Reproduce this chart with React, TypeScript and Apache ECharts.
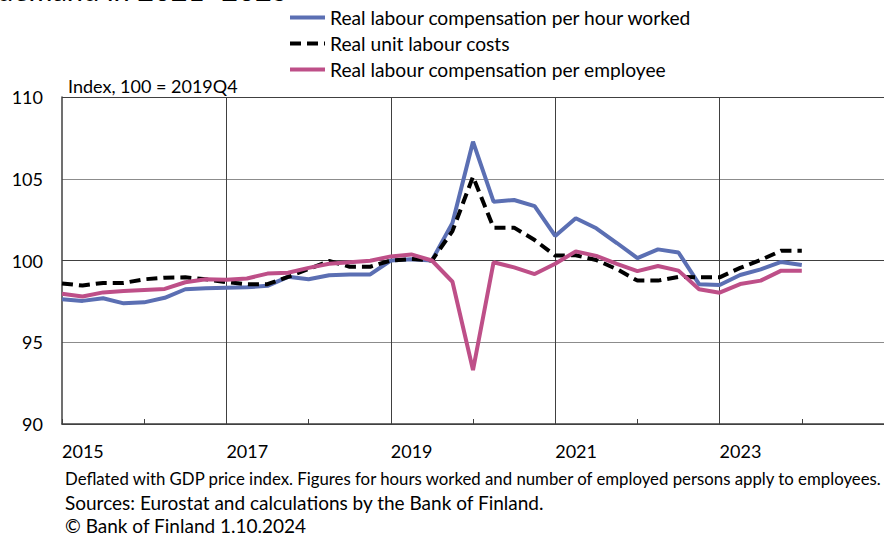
import React, { useEffect, useRef } from "react";
import * as echarts from "echarts";

// Quarters 2015Q2 .. 2025Q2 (axis extends past the last observation)
const quarters: string[] = [];
for (let y = 2015; y <= 2025; y++) {
  for (let q = 1; q <= 4; q++) {
    if (y === 2015 && q === 1) continue;
    if (y === 2025 && q > 2) continue;
    quarters.push(`${y}Q${q}`);
  }
}

const perHourWorked = [
  97.63, 97.53, 97.69, 97.38, 97.44, 97.72, 98.24, 98.3, 98.34, 98.36, 98.45,
  99.0, 98.85, 99.1, 99.15, 99.15, 100.0, 100.08, 100.0, 102.3, 107.27, 103.6,
  103.7, 103.33, 101.5, 102.58, 101.97, 101.07, 100.15, 100.68, 100.49, 98.55,
  98.5, 99.11, 99.46, 99.91, 99.72,
];

const unitLabourCosts = [
  98.6, 98.47, 98.63, 98.63, 98.85, 98.95, 98.97, 98.85, 98.68, 98.55, 98.55,
  99.0, 99.48, 99.97, 99.62, 99.62, 100.0, 100.09, 100.0, 101.8, 105.13, 102.01,
  102.01, 101.25, 100.3, 100.32, 100.03, 99.47, 98.77, 98.77, 99.0, 98.97,
  98.97, 99.55, 100.03, 100.6, 100.6,
];

const perEmployee = [
  97.96, 97.8, 98.05, 98.13, 98.2, 98.26, 98.67, 98.85, 98.82, 98.9, 99.2,
  99.25, 99.55, 99.8, 99.9, 99.98, 100.25, 100.37, 100.0, 98.7, 93.3, 99.89,
  99.58, 99.17, 99.8, 100.56, 100.28, 99.79, 99.35, 99.66, 99.38, 98.24, 98.03,
  98.56, 98.77, 99.38, 99.38,
];

const seriesNames = [
  "Real labour compensation per hour worked",
  "Real unit labour costs",
  "Real labour compensation per employee",
];

const titleText = "demand in 2021–2025";
const unitText = "Index, 100 = 2019Q4";
const footnotes = [
  "Deflated with GDP price index. Figures for hours worked and number of employed persons apply to employees.",
  "Sources: Eurostat and calculations by the Bank of Finland.",
  "© Bank of Finland 1.10.2024",
];

const FONT = "Lato, 'Noto Sans', sans-serif";
const BLUE = "#5b6fb3";
const PINK = "#be4f88";

export default function App() {
  const ref = useRef<HTMLDivElement>(null);

  useEffect(() => {
    if (!ref.current) return;
    const chart = echarts.init(ref.current, undefined, { renderer: "svg" });
    const catCount = quarters.length; // 41
    const step = 20.97;

    chart.setOption({
      animation: false,
      backgroundColor: "#ffffff",
      textStyle: { fontFamily: FONT },
      grid: {
        left: 62,
        top: 97,
        height: 327,
        width: step * (catCount - 1),
        containLabel: false,
      },
      legend: {
        orient: "vertical",
        left: 288,
        top: 8,
        padding: 0,
        itemWidth: 35,
        itemHeight: 8,
        itemGap: 7,
        selectedMode: false,
        itemStyle: { opacity: 0 },
        lineStyle: { width: 4 },
        textStyle: { fontSize: 19.2, color: "#000", fontFamily: FONT },
        data: seriesNames,
      },
      xAxis: {
        type: "category",
        data: quarters,
        boundaryGap: false,
        axisLine: { show: true, lineStyle: { color: "#404040", width: 1.5 } },
        axisTick: {
          show: true,
          inside: true,
          length: 5,
          interval: (i: number) => i % 4 === 0,
          lineStyle: { color: "#404040", width: 1 },
        },
        axisLabel: {
          interval: (i: number) => i % 8 === 0 && i < 40,
          formatter: (v: string) => v.slice(0, 4),
          align: "left",
          fontSize: 18,
          color: "#000",
          margin: 18,
          fontFamily: FONT,
        },
        splitLine: {
          show: true,
          interval: (i: number) => i % 8 === 0 && i > 0,
          lineStyle: { color: "#404040", width: 1 },
        },
      },
      yAxis: {
        type: "value",
        min: 90,
        max: 110,
        interval: 5,
        axisLine: { show: true, lineStyle: { color: "#404040", width: 1.5 } },
        axisTick: { show: false },
        axisLabel: { fontSize: 18, color: "#000", margin: 19, fontFamily: FONT },
        splitLine: {
          show: true,
          lineStyle: {
            color: ["#404040", "#8c8c8c", "#404040", "#8c8c8c", "#404040"],
            width: 1,
          },
        },
      },
      series: [
        {
          name: seriesNames[0],
          type: "line",
          data: perHourWorked,
          symbol: "none",
          lineStyle: { color: BLUE, width: 4 },
          itemStyle: { color: BLUE },
        },
        {
          name: seriesNames[1],
          type: "line",
          data: unitLabourCosts,
          symbol: "none",
          lineStyle: { color: "#000", width: 4, type: [11, 6] },
          itemStyle: { color: "#000" },
        },
        {
          name: seriesNames[2],
          type: "line",
          data: perEmployee,
          symbol: "none",
          lineStyle: { color: PINK, width: 4 },
          itemStyle: { color: PINK },
        },
      ],
      graphic: [
        {
          type: "text",
          left: -3,
          top: -25,
          style: { text: titleText, fontSize: 29, fill: "#000", fontFamily: FONT },
        },
        {
          type: "text",
          left: 68,
          top: 77,
          style: { text: unitText, fontSize: 18, fill: "#000", fontFamily: FONT },
        },
        {
          type: "text",
          left: 65,
          top: 470,
          style: { text: footnotes[0], fontSize: 16.8, fill: "#000", fontFamily: FONT },
        },
        {
          type: "text",
          left: 65,
          top: 493,
          style: { text: footnotes[1], fontSize: 19, fill: "#000", fontFamily: FONT },
        },
        {
          type: "text",
          left: 65,
          top: 516,
          style: { text: footnotes[2], fontSize: 19, fill: "#000", fontFamily: FONT },
        },
      ],
    });

    return () => chart.dispose();
  }, []);

  return (
    <div
      ref={ref}
      style={{ position: "fixed", left: 0, top: 0, width: 884, height: 536 }}
    />
  );
}
